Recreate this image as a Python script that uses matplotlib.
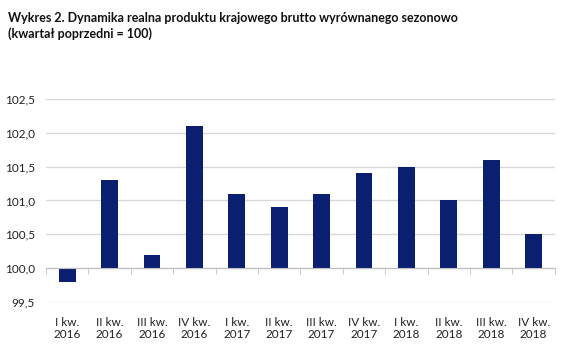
import matplotlib
matplotlib.use('Agg')
import matplotlib.pyplot as plt
from matplotlib.ticker import FuncFormatter

# data
quarters = ['I kw.\n2016', 'II kw.\n2016', 'III kw.\n2016', 'IV kw.\n2016',
            'I kw.\n2017', 'II kw.\n2017', 'III kw.\n2017', 'IV kw.\n2017',
            'I kw.\n2018', 'II kw.\n2018', 'III kw.\n2018', 'IV kw.\n2018']
values = [99.8, 101.3, 100.2, 102.1, 101.1, 100.9, 101.1, 101.4, 101.5, 101.0, 101.6, 100.5]
base = 100.0
yticks = [99.5, 100.0, 100.5, 101.0, 101.5, 102.0, 102.5]

plt.rcParams['font.family'] = ['Lato', 'DejaVu Sans']

fig = plt.figure(figsize=(5.61, 3.56), dpi=100)
ax = fig.add_axes([0.082, 0.152, 0.907, 0.570])

x = list(range(len(values)))
heights = [v - base for v in values]
ax.bar(x, heights, bottom=base, width=0.4, color='#0b1f70', zorder=3)

ax.set_ylim(99.5, 102.5)
ax.set_xlim(-0.5, len(values) - 0.5)
ax.set_yticks(yticks)
ax.yaxis.set_major_formatter(FuncFormatter(lambda v, p: f'{v:.1f}'.replace('.', ',')))
ax.grid(axis='y', color='#d9d9d9', linewidth=1.0, zorder=0)
ax.tick_params(axis='y', length=0, labelsize=8.5, colors='#222222', pad=8)

for s in ['left', 'right', 'top']:
    ax.spines[s].set_visible(False)
ax.spines['bottom'].set_position(('data', base))
ax.spines['bottom'].set_color('#bfbfbf')
ax.spines['bottom'].set_zorder(4)

ax.set_xticks(x)
ax.set_xticklabels(quarters)
ax.set_xticks([i - 0.5 for i in range(len(values) + 1)], minor=True)
ax.tick_params(axis='x', which='major', length=0, labelsize=8.5, colors='#222222', pad=35)
ax.tick_params(axis='x', which='minor', length=4, color='#bfbfbf', direction='out')

fig.text(0.014, 0.965, 'Wykres 2. Dynamika realna produktu krajowego brutto wyrównanego sezonowo\n(kwartał poprzedni = 100)',
         fontsize=9, fontweight='bold', va='top', ha='left', color='#111111', linespacing=1.3)

fig.savefig('out.png', dpi=100)
